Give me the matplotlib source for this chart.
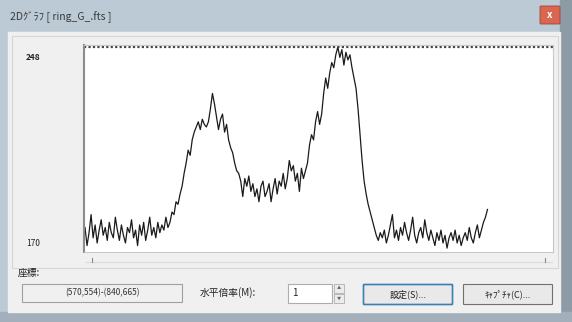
import numpy as np
import matplotlib.pyplot as plt
from matplotlib.patches import Rectangle, FancyBboxPatch
from matplotlib.colors import LinearSegmentedColormap

plt.rcParams['font.family'] = ['Noto Sans CJK JP', 'DejaVu Sans']

# intensity profile along the line (570,554)-(840,665)
profile = [178, 171, 176, 183, 174, 179, 172, 177, 181, 175,
           178, 173, 180, 176, 174, 182, 177, 173, 179, 175,
           172, 178, 176, 181, 174, 177, 171, 179, 175, 180,
           173, 177, 182, 175, 178, 174, 180, 176, 179, 177,
           182, 178, 180,
           184, 183, 188, 187, 191, 194, 199, 203, 208, 206,
           212, 215, 217, 219, 216, 220, 218, 217, 219, 224,
           230, 226, 221,
           216, 220, 222, 215, 218, 212, 209, 207, 203, 200, 199, 196,
           190, 197, 194, 198, 192, 195, 190, 193, 188, 194,
           196, 190, 192, 195, 188, 193, 197, 191, 196, 194,
           199, 193, 197, 204, 200, 202, 196, 199, 192, 201,
           197, 200, 203, 210, 214, 212, 219, 223, 218, 222,
           230, 236, 232, 238, 242, 240, 245, 248,
           244, 247, 241, 246, 243, 245, 240,
           236, 232, 224, 214, 204, 196, 191, 187, 184, 181,
           178, 175, 173, 176, 174, 177, 172, 175, 179, 183,
           174, 177, 173, 178, 175, 180, 176, 173, 177, 182,
           175, 172, 176, 178, 174, 181, 176, 173, 177, 174,
           171, 176, 173, 177, 172, 175, 170, 174, 176, 173,
           177, 172, 175, 171, 174, 176, 173, 178, 174, 172,
           176, 179, 174, 177, 180, 182, 185]
vmin, vmax = 170, 248
title = "2Dｸﾞﾗﾌ [ ring_G_.fts ]"
coords = "(570,554)-(840,665)"
zoom_label = "水平倍率(M):"
zoom_value = "1"
btn_labels = ["設定(S)...", "ｷｬﾌﾟﾁｬ(C)..."]

W, H = 572, 322
fig = plt.figure(figsize=(W / 100, H / 100), dpi=100)

# dialog chrome drawn in pixel coordinates
bg = fig.add_axes([0, 0, 1, 1])
bg.set_xlim(0, W)
bg.set_ylim(H, 0)
bg.axis("off")

bg.add_patch(Rectangle((0, 0), W, H, color="#bccad6"))
grad = np.linspace(0, 1, 64).reshape(-1, 1)
bg.imshow(grad, extent=(0, W, 32, 0), aspect="auto", zorder=0,
          cmap=LinearSegmentedColormap.from_list("tb", ["#d6e2ec", "#b9ccdc"]))
bg.add_patch(Rectangle((W - 12, 0), 12, H, color="#8d9ba7", zorder=1))
bg.add_patch(Rectangle((0, H - 10), W, 10, color="#a3b0bb", zorder=1))
bg.add_patch(Rectangle((8, 32), W - 20, H - 42, color="#f0f0f0", zorder=1))
bg.text(10, 17, title, fontsize=7.5, color="#3a3a3a", va="center", zorder=2)
bg.add_patch(FancyBboxPatch((541, 7), 18, 16, boxstyle="round,pad=1",
                            fc="#d9674f", ec="#a04030", lw=0.6, zorder=2))
bg.text(550, 15, "x", fontsize=7, color="white", ha="center", va="center",
        weight="bold", zorder=3)

# plot group frame and slider
bg.add_patch(Rectangle((12, 36), 546, 232, fc="none", ec="#d6d6d6", lw=0.8, zorder=2))
bg.plot([86, 552], [262, 262], color="#dcdcdc", lw=1.0, zorder=2)
bg.plot([92, 92], [258, 262], color="#888888", lw=0.8, zorder=2)
bg.plot([545, 545], [258, 262], color="#888888", lw=0.8, zorder=2)
bg.text(26, 57, str(vmax), fontsize=6, color="#222222", va="center",
        weight="bold", zorder=2)
bg.text(26, 243, str(vmin), fontsize=6, color="#222222", va="center", zorder=2)

# bottom controls
bg.text(18, 273, "座標:", fontsize=7, color="#222222", va="center", zorder=2)
bg.add_patch(Rectangle((22, 284), 160, 18, fc="#f0f0f0", ec="#a0a0a0", lw=0.8, zorder=2))
bg.text(102, 293, coords, fontsize=6, color="#333333", ha="center", va="center", zorder=3)
bg.text(200, 293, zoom_label, fontsize=7, color="#222222", va="center", zorder=2)
bg.add_patch(Rectangle((288, 284), 44, 19, fc="white", ec="#abadb3", lw=0.8, zorder=2))
bg.text(292, 293, zoom_value, fontsize=7, color="#222222", va="center", zorder=3)
bg.add_patch(Rectangle((334, 284), 10, 9, fc="#ececec", ec="#b0b0b0", lw=0.6, zorder=2))
bg.add_patch(Rectangle((334, 294), 10, 9, fc="#ececec", ec="#b0b0b0", lw=0.6, zorder=2))
bg.text(339, 288.5, "▲", fontsize=3, color="#666666", ha="center", va="center", zorder=3)
bg.text(339, 298.5, "▼", fontsize=3, color="#666666", ha="center", va="center", zorder=3)

for x0, label, edge in [(364, btn_labels[0], "#3c7fb1"), (464, btn_labels[1], "#707070")]:
    bg.add_patch(FancyBboxPatch((x0, 285), 88, 19, boxstyle="round,pad=0.5",
                                fc="#e9e9e9", ec=edge, lw=1.2 if edge == "#3c7fb1" else 0.8,
                                zorder=2))
    bg.text(x0 + 44, 294.5, label, fontsize=6.5, color="#222222",
            ha="center", va="center", zorder=3)

# profile plot
ax = fig.add_axes([84 / W, 1 - 252 / H, (553 - 84) / W, (252 - 45) / H])
x = np.arange(len(profile))
ax.plot(x, profile, color="#1a1a1a", lw=0.9)
ax.axhline(vmax, color="#444444", lw=1.6, ls=(0, (1, 1)))
ax.set_xlim(-0.5, (len(profile) - 1) / 0.86)
ax.set_ylim(vmin - 1.5, vmax + 0.8)
ax.set_xticks([])
ax.set_yticks([])
for s in ax.spines.values():
    s.set_color("#c8c8c8")
ax.spines["left"].set_color("#8c8c8c")
ax.spines["left"].set_linewidth(1.5)

fig.savefig("out.png", dpi=100)
